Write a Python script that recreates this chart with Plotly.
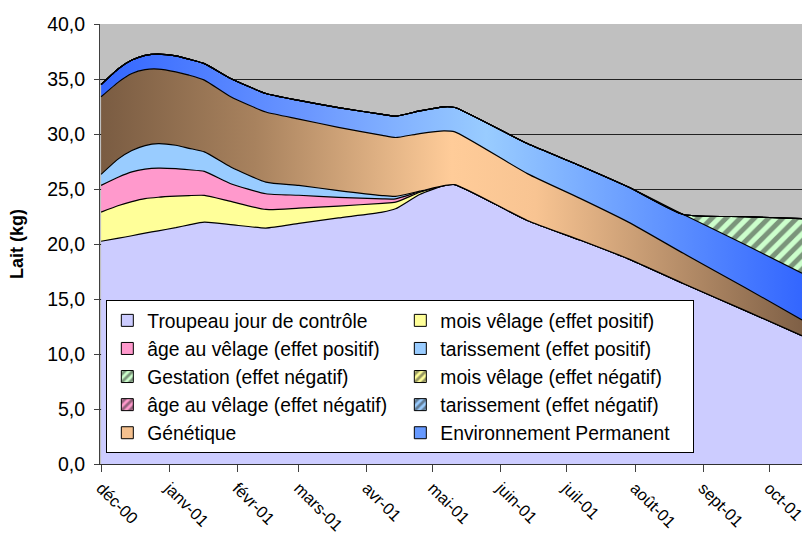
import plotly.graph_objects as go

# Test-day dates and the milk components (kg) stacked on each date
dates = ["2000-12-01", "2000-12-09", "2000-12-15", "2000-12-21", "2000-12-27",
         "2001-01-04", "2001-01-10", "2001-01-17", "2001-01-29", "2001-02-14",
         "2001-03-01", "2001-03-19", "2001-04-08", "2001-04-14", "2001-04-25",
         "2001-05-06", "2001-05-11", "2001-06-13", "2001-07-07", "2001-07-29",
         "2001-08-23", "2001-09-20", "2001-10-16"]

troupeau = [20.25, 20.53, 20.75, 20.99, 21.20, 21.49, 21.74, 21.99, 21.76, 21.45,
            21.87, 22.37, 22.90, 23.20, 24.50, 25.30, 25.40, 22.14, 20.36, 18.65,
            16.41, 13.97, 11.66]
mois_pos = [2.65, 2.97, 3.10, 3.13, 3.05, 2.86, 2.66, 2.43, 2.11, 1.69,
            1.39, 1.08, 0.80, 0.60, 0.20, 0, 0, 0, 0, 0, 0, 0, 0]
age_pos = [2.43, 2.59, 2.70, 2.68, 2.65, 2.50, 2.35, 2.18, 1.61, 1.43,
           1.17, 0.79, 0.40, 0.30, 0.05, 0, 0, 0, 0, 0, 0, 0, 0]
tariss_pos = [1.00, 1.67, 1.95, 2.15, 2.23, 2.13, 1.95, 1.77, 1.52, 1.06,
              0.90, 0.61, 0.30, 0.23, 0.05, 0, 0, 0, 0, 0, 0, 0, 0]
genetique = [7.05, 6.98, 7.00, 6.90, 6.77, 6.67, 6.65, 6.53, 6.38, 6.37,
             6.03, 5.76, 5.47, 5.35, 5.24, 4.98, 4.79, 4.26, 3.79, 3.34,
             2.74, 2.08, 1.44]
env_perm = [1.12, 1.22, 1.22, 1.30, 1.37, 1.45, 1.45, 1.50, 1.67, 1.68,
            1.69, 1.79, 1.91, 1.94, 2.06, 2.19, 2.22, 2.73, 2.97, 3.19,
            3.53, 3.90, 4.25]
gestation_neg = [0] * 21 + [2.54, 4.95]
mois_neg = [0] * 23
age_neg = [0] * 23
tariss_neg = [0] * 23

month_ticks = ["2000-12-01", "2001-01-01", "2001-02-01", "2001-03-01", "2001-04-01",
               "2001-05-01", "2001-06-01", "2001-07-01", "2001-08-01", "2001-09-01",
               "2001-10-01"]
month_labels = ["déc-00", "janv-01", "févr-01", "mars-01", "avr-01", "mai-01",
                "juin-01", "juil-01", "août-01", "sept-01", "oct-01"]

FONT = "Liberation Sans, Arial, sans-serif"
YTICK_SIZE = 19.5
XTICK_SIZE = 16.5
LEGEND_SIZE = 19.3

fig = go.Figure()

# (name, values, fill colour, pattern colour, gradient, legend rank)
layers = [
    ("Troupeau jour de contrôle", troupeau, "#CCCCFF", None, None, 1),
    ("mois vêlage (effet positif)", mois_pos, "#FFFF99", None, None, 2),
    ("âge au vêlage (effet positif)", age_pos, "#FF99CC", None, None, 3),
    ("tarissement (effet positif)", tariss_pos, "#99CCFF", None, None, 4),
    ("Génétique", genetique, "#F4C08E", None,
     [[0, "#7A5C42"], [0.22, "#A8825E"], [0.5, "#FFCC99"], [0.62, "#F8C492"], [1, "#7F6046"]], 9),
    ("Environnement Permanent", env_perm, "#6699FF", None,
     [[0, "#3366FF"], [0.3, "#6C98FF"], [0.55, "#99CCFF"], [1, "#3366FF"]], 10),
    ("Gestation (effet négatif)", gestation_neg, "#CCFFCC", "#2A2A2A", None, 5),
    ("mois vêlage (effet négatif)", mois_neg, "#FFFF99", "#2A2A2A", None, 6),
    ("âge au vêlage (effet négatif)", age_neg, "#FF99CC", "#2A2A2A", None, 7),
    ("tarissement (effet négatif)", tariss_neg, "#99CCFF", "#2A2A2A", None, 8),
]

for name, vals, color, pat, grad, rank in layers:
    kw = dict(x=dates, y=vals, name=name, stackgroup="lait", mode="lines",
              line=dict(color="#000000", width=1.2, shape="spline", smoothing=0.55),
              fillcolor=color, showlegend=False, hoverinfo="skip")
    if grad is not None:
        kw["fillgradient"] = dict(type="horizontal", colorscale=grad)
    if pat is not None:
        kw["fillpattern"] = dict(shape="/", bgcolor=color, fgcolor=pat,
                                 size=10, solidity=0.5, fillmode="overlay")
    fig.add_trace(go.Scatter(**kw))

# square swatches for the legend
for name, vals, color, pat, grad, rank in layers:
    marker = dict(color=color, line=dict(color="#000000", width=1))
    if pat is not None:
        marker["pattern"] = dict(shape="/", bgcolor=color, fgcolor=pat,
                                 size=7, solidity=0.5, fillmode="overlay")
    fig.add_trace(go.Bar(x=[None], y=[None], name=name, marker=marker,
                         legendrank=rank, showlegend=True, hoverinfo="skip"))

fig.update_layout(
    width=805, height=535,
    margin=dict(l=100, r=3, t=24, b=71),
    paper_bgcolor="#FFFFFF",
    plot_bgcolor="#C0C0C0",
    separators=", ",
    font=dict(family=FONT, size=LEGEND_SIZE, color="#000000"),
    showlegend=True,
    legend=dict(
        orientation="h", x=0.009, y=0.372, xanchor="left", yanchor="top",
        bgcolor="#FFFFFF", bordercolor="#000000", borderwidth=1,
        entrywidth=248, entrywidthmode="pixels",
        font=dict(family=FONT, size=LEGEND_SIZE), traceorder="normal",
    ),
    xaxis=dict(
        type="date", automargin=False,
        range=["2000-11-30 12:00", "2001-10-16"],
        tickvals=month_ticks, ticktext=month_labels,
        tickangle=45, ticks="outside", ticklen=7, tickcolor="#404040",
        ticklabeloverflow="allow",
        showline=True, linecolor="#303030", linewidth=1,
        showgrid=False, zeroline=False,
        tickfont=dict(family=FONT, size=XTICK_SIZE),
    ),
    yaxis=dict(
        range=[0, 40], dtick=5, tickformat=".1f", automargin=False,
        ticks="outside", ticklen=5, tickcolor="#404040", ticklabelstandoff=5,
        showline=True, linecolor="#404040", linewidth=1,
        showgrid=True, gridcolor="#222222", gridwidth=1, zeroline=False,
        tickfont=dict(family=FONT, size=YTICK_SIZE),
        title=dict(text="<b>Lait (kg)</b>", font=dict(family=FONT, size=18), standoff=18),
    ),
)

fig.write_html("out.html")
